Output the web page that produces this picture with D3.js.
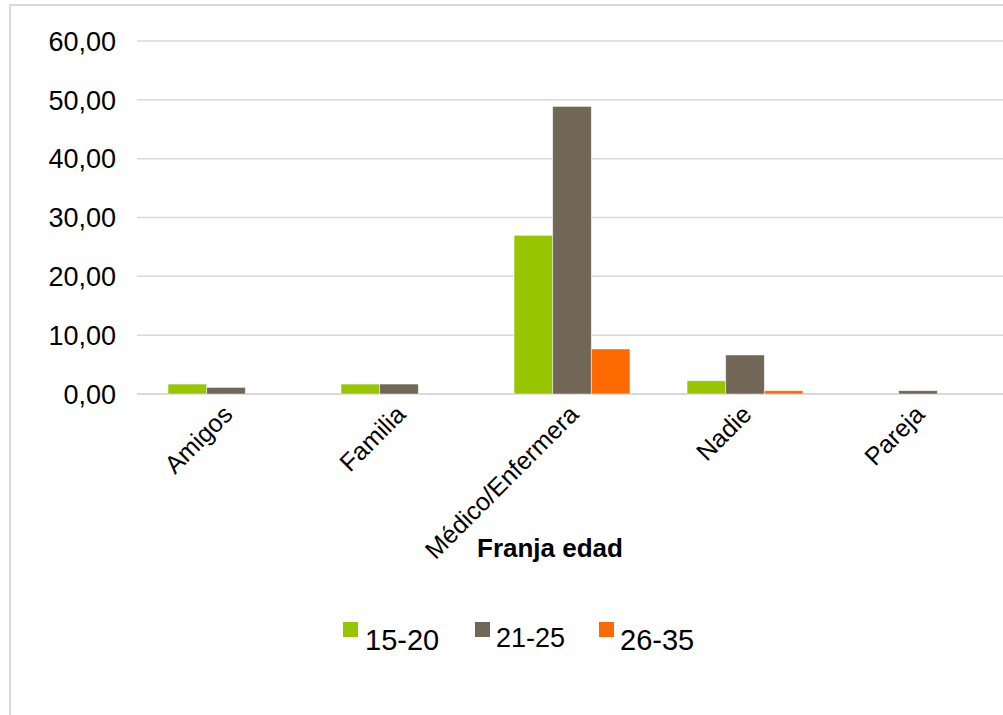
<!DOCTYPE html>
<html>
<head>
<meta charset="utf-8">
<script src="https://cdn.jsdelivr.net/npm/d3@7"></script>
<style>
  html, body { margin: 0; padding: 0; background: #ffffff; }
  svg { display: block; font-family: "Liberation Sans", Arial, sans-serif; }
</style>
</head>
<body>
<svg id="chart" width="1003" height="715"></svg>
<script>
const categories = ["Amigos", "Familia", "Médico/Enfermera", "Nadie", "Pareja"];
const seriesNames = ["15-20", "21-25", "26-35"];
const values15_20 = [1.69, 1.69, 26.97, 2.25, 0];
const values21_25 = [1.12, 1.69, 48.88, 6.63, 0.56];
const values26_35 = [0, 0, 7.65, 0.56, 0];
const seriesColors = ["#97c600", "#726756", "#ff6a00"];
const yTicks = [0, 10, 20, 30, 40, 50, 60];
const xAxisTitle = "Franja edad";

const series = [values15_20, values21_25, values26_35];
const svg = d3.select("#chart");
const W = 1003, H = 715;

// chart border
svg.append("rect")
  .attr("x", 10).attr("y", 5).attr("width", 1100).attr("height", 800)
  .attr("fill", "none").attr("stroke", "#d9d9d9").attr("stroke-width", 2);

const plot = { left: 139.5, right: 1004.5, top: 41, bottom: 394 };

const x = d3.scaleBand().domain(categories)
  .range([plot.left, plot.right]).paddingInner(0.33).paddingOuter(0.165);
const xs = d3.scaleBand().domain(seriesNames).range([0, x.bandwidth()]);
const y = d3.scaleLinear().domain([0, 60]).range([plot.bottom, plot.top]);

// gridlines
svg.append("g").selectAll("line").data(yTicks).join("line")
  .attr("x1", 137).attr("x2", W)
  .attr("y1", d => y(d)).attr("y2", d => y(d))
  .attr("stroke", "#d9d9d9").attr("stroke-width", d => d === 0 ? 2 : 1.5);

// y axis labels
const fmt = d => d3.format(".2f")(d).replace(".", ",");
svg.append("g").selectAll("text").data(yTicks).join("text")
  .attr("x", 116).attr("y", d => y(d)).attr("dy", "0.36em")
  .attr("text-anchor", "end").attr("font-size", 27).attr("fill", "#000")
  .text(fmt);

// bars
const groups = svg.append("g").selectAll("g").data(categories).join("g")
  .attr("transform", c => `translate(${x(c)},0)`);
groups.selectAll("rect")
  .data((c, i) => series.map((s, k) => ({ k, name: seriesNames[k], v: s[i] })))
  .join("rect")
  .filter(d => d.v > 0)
  .attr("x", d => xs(d.name)).attr("width", xs.bandwidth())
  .attr("y", d => y(d.v)).attr("height", d => y(0) - y(d.v))
  .attr("fill", d => seriesColors[d.k])
  .attr("stroke", "#ffffff").attr("stroke-opacity", 0.6).attr("stroke-width", 0.8);

// x category labels
svg.append("g").selectAll("text").data(categories).join("text")
  .attr("transform", c => `translate(${x(c) + x.bandwidth() / 2 + 8},${plot.bottom + 22}) rotate(-45)`)
  .attr("text-anchor", "end").attr("font-size", 25).attr("fill", "#000")
  .text(c => c);

// axis title
svg.append("text")
  .attr("x", 550).attr("y", 557)
  .attr("text-anchor", "middle").attr("font-size", 26).attr("font-weight", "bold")
  .attr("fill", "#000").text(xAxisTitle);

// legend
const legendItems = [
  { name: seriesNames[0], color: seriesColors[0], sx: 343, tx: 365, fs: 29, by: 650 },
  { name: seriesNames[1], color: seriesColors[1], sx: 475, tx: 496, fs: 27, by: 647 },
  { name: seriesNames[2], color: seriesColors[2], sx: 599, tx: 620, fs: 29, by: 650 }
];
const lg = svg.append("g").selectAll("g").data(legendItems).join("g");
lg.append("rect").attr("x", d => d.sx).attr("y", 622).attr("width", 15).attr("height", 15)
  .attr("fill", d => d.color);
lg.append("text").attr("x", d => d.tx).attr("y", d => d.by)
  .attr("font-size", d => d.fs).attr("fill", "#000").text(d => d.name);
</script>
</body>
</html>
